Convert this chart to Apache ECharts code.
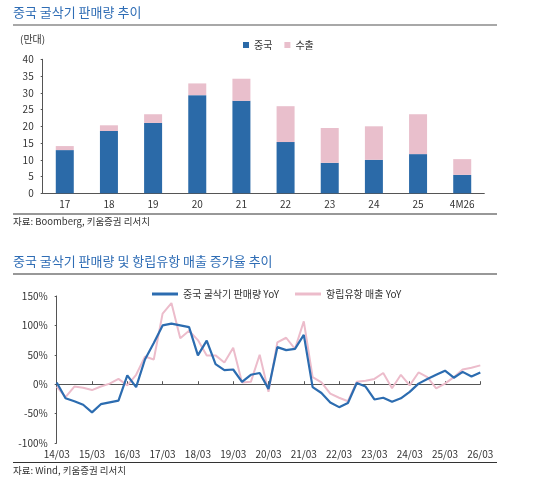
<!DOCTYPE html>
<html><head><meta charset="utf-8">
<script src="https://cdn.jsdelivr.net/npm/echarts@6/dist/echarts.min.js"></script>
<style>html,body{margin:0;padding:0;background:#fff}#c{width:537px;height:494px}</style>
</head><body><div id="c"></div>
<script>
var barCategories = ['17','18','19','20','21','22','23','24','25','4M26'];
var chinaSales = [12.9,18.6,21.0,29.3,27.6,15.3,9.1,10.0,11.7,5.5];
var exportSales = [1.2,1.7,2.6,3.5,6.6,10.7,10.4,10.0,11.9,4.7];

var quarters = ['14/03','14/06','14/09','14/12','15/03','15/06','15/09','15/12','16/03','16/06','16/09','16/12',
'17/03','17/06','17/09','17/12','18/03','18/06','18/09','18/12','19/03','19/06','19/09','19/12',
'20/03','20/06','20/09','20/12','21/03','21/06','21/09','21/12','22/03','22/06','22/09','22/12',
'23/03','23/06','23/09','23/12','24/03','24/06','24/09','24/12','25/03','25/06','25/09','25/12','26/03'];
var excavatorYoY = [3,-24,-29,-35,-48,-34,-31,-28,15,-5,42,70,100,103,100,97,49,74,34,24,25,4,16,19,-8,63,58,60,84,-5,-15,-31,-39,-32,2,-4,-26,-23,-30,-24,-13,1,9,16,23,11,21,13,20];
var hengliYoY = [-4,-22,-4,-6,-10,-4,1,9,-2,16,47,42,120,138,78,91,75,49,49,37,62,3,4,50,-13,71,79,60,107,12,3,-16,-23,-29,4,6,9,19,-7,16,-2,20,12,-7,1,12,25,28,32];
var yTicksLine = [-100,-50,0,50,100,150];

var F = '"Noto Sans CJK KR","Noto Sans",sans-serif';
var BLUE = '#2b6aa8', PINK = '#e9bfcc', LBLUE = '#2c6cb0', LPINK = '#ecbccb';
var chart = echarts.init(document.getElementById('c'), null, {renderer:'canvas'});
var axisCol = '#555';
chart.setOption({
  animation:false,
  textStyle:{fontFamily:F},
  grid:[
    {left:42.7, right:52.7, top:59.3, bottom:300.7},
    {left:56.7, right:56.7, top:296, bottom:51}
  ],
  legend:[
    {data:['중국','수출'], left:238, top:35, itemWidth:6, itemHeight:6, itemGap:12, icon:'rect',
     textStyle:{fontFamily:F, fontSize:10, color:'#333'}},
    {data:['중국 굴삭기 판매량 YoY','항립유항 매출 YoY'], left:147, top:284, itemWidth:26, itemHeight:3, itemGap:16, icon:'rect',
     textStyle:{fontFamily:F, fontSize:10, color:'#333'}}
  ],
  xAxis:[
    {type:'category', gridIndex:0, data:barCategories,
     axisLine:{lineStyle:{color:axisCol}}, axisTick:{length:3, lineStyle:{color:axisCol}},
     axisLabel:{color:'#333', fontSize:10, margin:6, fontFamily:F}},
    {type:'category', gridIndex:1, data:quarters, boundaryGap:false, position:'bottom',
     axisLine:{show:false, onZero:false}, axisTick:{show:false},
     axisLabel:{color:'#333', fontSize:10, margin:6, interval:3, fontFamily:F}},
    {type:'category', gridIndex:1, data:quarters, boundaryGap:false,
     axisLine:{show:true, onZero:true, lineStyle:{color:axisCol}},
     axisTick:{show:true, inside:false, length:3, interval:3, lineStyle:{color:axisCol}},
     axisLabel:{show:false}}
  ],
  yAxis:[
    {type:'value', gridIndex:0, min:0, max:40, interval:5,
     axisLine:{show:true, lineStyle:{color:axisCol}}, axisTick:{show:true, length:2, lineStyle:{color:axisCol}},
     splitLine:{show:false}, axisLabel:{color:'#333', fontSize:10, margin:9, fontFamily:F}},
    {type:'value', gridIndex:1, min:-100, max:150, interval:50,
     axisLine:{show:true, lineStyle:{color:axisCol}}, axisTick:{show:true, length:2, lineStyle:{color:axisCol}},
     splitLine:{show:false}, axisLabel:{color:'#333', fontSize:10, margin:9, fontFamily:F, formatter:'{value}%'}}
  ],
  series:[
    {name:'중국', type:'bar', stack:'s', xAxisIndex:0, yAxisIndex:0, data:chinaSales, barWidth:18, itemStyle:{color:BLUE}},
    {name:'수출', type:'bar', stack:'s', xAxisIndex:0, yAxisIndex:0, data:exportSales, barWidth:18, itemStyle:{color:PINK}},
    {name:'항립유항 매출 YoY', type:'line', xAxisIndex:2, yAxisIndex:1, data:hengliYoY, symbol:'none',
     lineStyle:{color:LPINK, width:2}, itemStyle:{color:LPINK}, z:2},
    {name:'중국 굴삭기 판매량 YoY', type:'line', xAxisIndex:2, yAxisIndex:1, data:excavatorYoY, symbol:'none',
     lineStyle:{color:LBLUE, width:2.2}, itemStyle:{color:LBLUE}, z:3}
  ],
  graphic:[
    {type:'text', left:13, top:6, style:{text:'중국 굴삭기 판매량 추이', fontFamily:F, fontSize:13, fill:'#2f6db5'}},
    {type:'line', shape:{x1:13, y1:25, x2:497, y2:25}, style:{stroke:'#a8a8a8', lineWidth:2}},
    {type:'text', left:20, top:34, style:{text:'(만대)', fontFamily:F, fontSize:10, fill:'#333'}},
    {type:'line', shape:{x1:13, y1:214, x2:497, y2:214}, style:{stroke:'#333', lineWidth:1.2}},
    {type:'text', left:13, top:217, style:{text:'자료: Boomberg, 키움증권 리서치', fontFamily:F, fontSize:9.5, fill:'#333'}},
    {type:'text', left:13, top:255, style:{text:'중국 굴삭기 판매량 및 항립유항 매출 증가율 추이', fontFamily:F, fontSize:13, fill:'#2f6db5'}},
    {type:'line', shape:{x1:13, y1:274, x2:497, y2:274}, style:{stroke:'#333', lineWidth:1.2}},
    {type:'line', shape:{x1:13, y1:462.5, x2:497, y2:462.5}, style:{stroke:'#333', lineWidth:1.2}},
    {type:'text', left:13, top:466, style:{text:'자료: Wind, 키움증권 리서치', fontFamily:F, fontSize:9.5, fill:'#333'}}
  ]
});
</script></body></html>
